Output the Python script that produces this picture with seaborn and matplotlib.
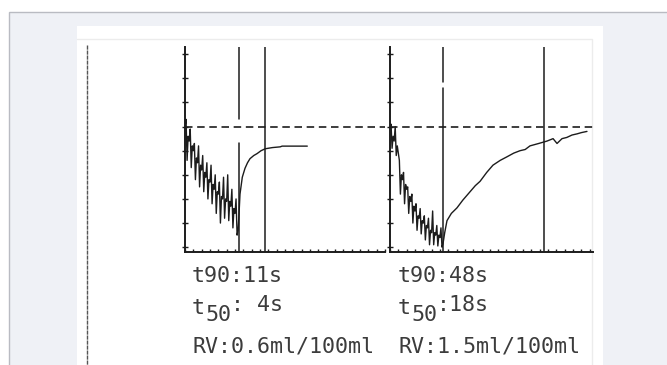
import seaborn as sns
import pandas as pd
import matplotlib.pyplot as plt
from matplotlib.patches import Rectangle

# left recording (time in s, volume signal in grid units)
left_t = [0.0, 0.5, 1.0, 1.5, 2.0, 2.5, 3.0, 3.5, 4.0, 4.5, 5.0, 5.5, 6.0, 6.5, 7.0, 7.5,
          8.0, 8.5, 9.0, 9.5, 10.0, 10.5, 11.0, 11.5, 12.0, 12.5, 13.0, 13.5, 14.0, 14.5,
          15.0, 15.5, 16.0, 16.5, 17.0, 17.5, 18.0, 18.5, 19.0, 19.5, 20.0, 20.5, 21.0,
          21.5, 22.0, 22.5, 23.0, 23.5, 24.0, 24.5, 25.0, 25.5,
          26.0, 26.4, 27.5, 28.8, 30.0, 31.2, 33.0, 34.6, 36.5, 38.5, 42.0, 45.7, 46.6,
          52.0, 58.7]
left_v = [5.0, 5.3, 3.6, 4.6, 4.4, 4.9, 3.3, 4.2, 4.0, 4.3, 2.8, 3.7, 3.5, 4.2, 2.5, 3.4,
          3.2, 3.8, 2.3, 3.1, 2.9, 3.5, 2.0, 2.8, 2.7, 3.4, 1.8, 2.6, 2.4, 3.0,
          1.4, 2.3, 2.2, 2.7, 1.0, 2.1, 2.0, 2.9, 1.2, 2.0, 1.9, 3.0, 1.1,
          1.9, 1.7, 2.4, 0.8, 1.6, 1.4, 2.0, 0.5, 0.7,
          1.5, 2.2, 2.9, 3.27, 3.5, 3.67, 3.8, 3.88, 4.0, 4.08, 4.13, 4.16, 4.19,
          4.19, 4.19]

# right recording
right_t = [0.0, 0.5, 1.0, 1.5, 2.0, 2.5, 3.0, 3.5, 4.0, 4.5, 5.0, 5.5, 6.0, 6.5, 7.0, 7.5,
           8.0, 8.5, 9.0, 9.5, 10.0, 10.5, 11.0, 11.5, 12.0, 12.5, 13.0, 13.5, 14.0, 14.5,
           15.0, 15.5, 16.0, 16.5, 17.0, 17.5, 18.0, 18.5, 19.0, 19.5, 20.0, 20.5, 21.0,
           21.5, 22.0, 22.5, 23.0, 23.5, 24.0, 24.5, 25.0, 25.5,
           26.3, 27.4, 29.5, 32.2, 35.0, 38.5, 41.0, 43.3, 46.5, 49.5, 53.0, 56.3, 59.5,
           62.5, 65.0, 67.3, 71.5, 75.5, 78.4, 80.3, 82.7, 85.0, 87.5, 90.0, 92.0, 94.7]
right_v = [5.0, 5.1, 4.1, 4.6, 4.4, 5.0, 3.8, 4.2, 3.9, 3.6, 2.2, 3.0, 2.8, 3.1, 1.8, 2.6,
           2.4, 2.5, 1.4, 2.1, 1.9, 2.2, 1.0, 1.7, 1.5, 1.8, 0.7, 1.3, 1.2, 1.6,
           0.55, 1.1, 1.0, 1.3, 0.3, 0.9, 0.8, 1.2, 0.1, 0.7, 0.6, 1.5, 0.1,
           0.6, 0.5, 0.9, 0.05, 0.5, 0.4, 0.8, 0.0, 0.15,
           0.6, 1.1, 1.4, 1.63, 1.95, 2.3, 2.55, 2.73, 3.1, 3.4, 3.6, 3.75, 3.9,
           4.0, 4.05, 4.2, 4.3, 4.4, 4.5, 4.3, 4.5, 4.55, 4.65, 4.7, 4.75, 4.8]

# markers: cuff release (dashed) and t90 (solid), baseline level
release_t = [26.0, 25.5]
t90_mark = [38.5, 74.0]
baseline_level = 5.0

# printed results
t90_text = ["11s", "48s"]
t50_text = [" 4s", "18s"]
rv_text = ["0.6ml/100ml", "1.5ml/100ml"]

sns.set_theme(style="white")
plt.rcParams['font.family'] = ['DejaVu Sans Mono', 'DejaVu Sans']

fig = plt.figure(figsize=(6.67, 3.65), dpi=100)

# page background in pixel coords
bg = fig.add_axes([0, 0, 1, 1], zorder=0)
bg.set_xlim(0, 667)
bg.set_ylim(365, 0)
bg.axis('off')
bg.add_patch(Rectangle((9, 12), 700, 400, facecolor='#eff1f6', edgecolor='#b9bbc2', lw=1))
bg.add_patch(Rectangle((77, 26), 526, 400, facecolor='white', edgecolor='none'))
bg.plot([77, 592, 592], [39, 39, 365], color='#ececec', lw=1)
bg.plot([87, 87], [45, 365], color='#555555', lw=1, ls=(0, (3, 0.6)))

ink = '#1c1c1c'
frames = [([185 / 667, 113 / 365, 200 / 667, 205 / 365], 96.0, left_t, left_v, (0.53, 0.65)),
          ([390 / 667, 113 / 365, 203 / 667, 205 / 365], 97.6, right_t, right_v, (0.80, 0.83))]

for i, (rect, xmax, t, v, gap) in enumerate(frames):
    ax = fig.add_axes(rect, zorder=2)
    ax.set_facecolor('none')
    df = pd.DataFrame({'t': t, 'v': v})
    sns.lineplot(x='t', y='v', data=df, ax=ax, color=ink, lw=1.0,
                 estimator=None, sort=False)
    ax.axhline(baseline_level, color=ink, lw=1.2, ls=(0, (4.5, 2.8)))
    ax.axvline(release_t[i], ymin=0, ymax=gap[0], color=ink, lw=1.1)
    ax.axvline(release_t[i], ymin=gap[1], ymax=1, color=ink, lw=1.1)
    ax.axvline(t90_mark[i], color=ink, lw=1.1)
    ax.set_xlim(0, xmax)
    ax.set_ylim(-0.2, 8.3)
    ax.set_xticks(range(0, int(xmax) + 1, 4))
    ax.set_yticks(range(0, 9))
    ax.set_xticklabels([])
    ax.set_yticklabels([])
    ax.set_xlabel('')
    ax.set_ylabel('')
    for s in ['top', 'right']:
        ax.spines[s].set_visible(False)
    for s in ['left', 'bottom']:
        ax.spines[s].set_color(ink)
        ax.spines[s].set_linewidth(1.4)
    ax.tick_params(axis='x', direction='in', length=2.5, width=1, color=ink, bottom=True)
    ax.tick_params(axis='y', direction='inout', length=4, width=1, color=ink, left=True)

# results printed under each trace
fs = 15.6
cw = 13.1
txt = '#3c3c3c'
for i, x0 in enumerate([192, 398]):
    bg.text(x0, 282, 't90:' + t90_text[i], fontsize=fs, color=txt, va='baseline')
    bg.text(x0, 314, 't', fontsize=fs, color=txt, va='baseline')
    bg.text(x0 + cw, 321, '50', fontsize=fs, color=txt, va='baseline')
    bg.text(x0 + 3 * cw, 311, ':' + t50_text[i], fontsize=fs, color=txt, va='baseline')
    bg.text(x0, 352, 'RV:' + rv_text[i], fontsize=fs, color=txt, va='baseline')

plt.savefig('out.png', dpi=100)
